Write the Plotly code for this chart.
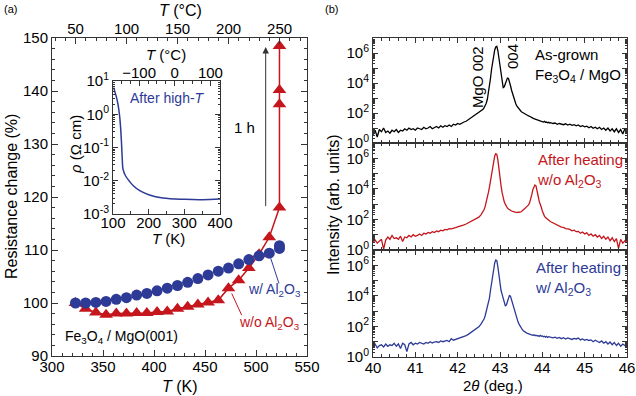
import plotly.graph_objects as go

# ── (a) resistance change vs temperature ──
temp_w = [323, 333, 343, 353, 363, 373, 383, 393, 403, 413, 423,
          433, 443, 453, 463, 473, 483, 493, 503, 513, 523, 523]
res_w = [100.0, 100.0, 100.1, 100.3, 100.7, 101.0, 101.5, 101.8, 102.3, 102.8, 103.3,
         103.9, 104.6, 105.3, 106.0, 106.6, 107.4, 108.2, 108.9, 109.4, 110.3, 110.8]

temp_wo = [323, 333, 343, 353, 363, 373, 383, 393, 403, 413, 423, 433,
           443, 453, 463, 473, 483, 493, 503, 513, 523, 523, 523, 523]
res_wo = [100.0, 98.9, 98.2, 97.8, 98.0, 98.0, 98.1, 98.1, 98.3, 98.4, 98.9, 99.3,
          99.7, 100.1, 100.5, 102.8, 104.3, 106.6, 109.2, 112.4, 118.0, 137.5, 140.2, 148.5]

# inset: resistivity after high-T (log10 of rho)
inset_T = [102, 106, 110, 114, 118, 121, 124, 126, 128, 135, 145, 157, 175, 200, 240, 300, 350, 400]
inset_log_rho = [0.80, 0.65, 0.50, 0.30, 0.00, -0.35, -0.90, -1.35, -1.65, -1.85, -2.00,
                 -2.15, -2.30, -2.42, -2.52, -2.56, -2.57, -2.55]

# ── (b) XRD scans, 2theta grid (coarse / fine around peaks / coarse) ──
scan_lo = [40.00, 40.05, 40.10, 40.15, 40.20, 40.25, 40.30, 40.35, 40.40, 40.45,
           40.50, 40.55, 40.60, 40.65, 40.70, 40.75, 40.80, 40.85, 40.90, 40.95,
           41.00, 41.05, 41.10, 41.15, 41.20, 41.25, 41.30, 41.35, 41.40, 41.45,
           41.50, 41.55, 41.60, 41.65, 41.70, 41.75, 41.80, 41.85, 41.90, 41.95,
           42.00, 42.05, 42.10, 42.15, 42.20, 42.25, 42.30, 42.35, 42.40, 42.45,
           42.50, 42.55]
scan_mid = [42.600, 42.625, 42.650, 42.675, 42.700, 42.725, 42.750, 42.775, 42.800, 42.825,
            42.850, 42.875, 42.900, 42.925, 42.950, 42.975, 43.000, 43.025, 43.050, 43.075,
            43.100, 43.125, 43.150, 43.175, 43.200, 43.225, 43.250, 43.275, 43.300, 43.325,
            43.350, 43.375, 43.400, 43.425, 43.450, 43.475, 43.500, 43.525, 43.550, 43.575,
            43.600, 43.625, 43.650, 43.675, 43.700, 43.725, 43.750, 43.775, 43.800, 43.825,
            43.850, 43.875, 43.900, 43.925, 43.950, 43.975, 44.000, 44.025, 44.050, 44.075,
            44.100, 44.125, 44.150, 44.175]
scan_hi = [44.20, 44.25, 44.30, 44.35, 44.40, 44.45, 44.50, 44.55, 44.60, 44.65,
           44.70, 44.75, 44.80, 44.85, 44.90, 44.95, 45.00, 45.05, 45.10, 45.15,
           45.20, 45.25, 45.30, 45.35, 45.40, 45.45, 45.50, 45.55, 45.60, 45.65,
           45.70, 45.75, 45.80, 45.85, 45.90, 45.95, 46.00]
two_theta = scan_lo + scan_mid + scan_hi

# log10(intensity)
asgrown_log = [
    0.55, 0.85, 0.40, 0.90, 0.75, 1.00, 0.70, 0.80, 0.65, 0.85,
    0.75, 0.90, 0.70, 0.85, 0.80, 0.95, 0.85, 1.00, 0.90, 0.95,
    0.85, 1.00, 0.95, 0.90, 1.05, 0.95, 1.00, 1.10, 0.95, 1.05,
    1.10, 1.00, 1.15, 1.05, 1.15, 1.10, 1.20, 1.10, 1.25, 1.20,
    1.30, 1.25, 1.35, 1.40, 1.45, 1.55, 1.65, 1.75, 1.85, 1.93,
    2.05, 2.15,
    2.25, 2.35, 2.47, 2.65, 2.90, 3.30, 3.75, 4.30, 4.90, 5.40,
    5.85, 6.20, 6.40, 6.45, 6.15, 5.60, 5.10, 4.50, 4.00, 3.70,
    3.75, 3.95, 4.20, 4.33, 4.30, 4.10, 3.80, 3.50, 3.25, 3.00,
    2.80, 2.60, 2.45, 2.35, 2.25, 2.15, 2.10, 2.05, 2.00, 1.95,
    1.92, 1.88, 1.85, 1.80, 1.78, 1.72, 1.70, 1.66, 1.62, 1.60,
    1.55, 1.52, 1.50, 1.48, 1.45, 1.48, 1.42, 1.40, 1.44, 1.38,
    1.40, 1.35, 1.38, 1.33,
    1.35, 1.30, 1.33, 1.25, 1.30, 1.27, 1.22, 1.28, 1.20, 1.25,
    1.18, 1.22, 1.15, 1.20, 1.10, 1.15, 1.08, 1.12, 1.02, 1.10,
    0.98, 1.05, 0.95, 1.05, 0.90, 1.00, 0.85, 1.00, 0.80, 0.95,
    0.75, 0.95, 0.70, 0.90, 0.60, 0.95, 0.70]

heated_wo_log = [
    0.50, 0.65, 0.45, 0.60, 0.70, 0.05, 0.65, 0.85, 0.70, 0.95,
    0.75, 0.80, 0.70, 0.90, 0.55, 0.85, 0.80, 0.95, 0.85, 1.00,
    0.90, 0.95, 1.05, 0.95, 1.10, 1.05, 1.15, 1.10, 1.20, 1.15,
    1.25, 1.20, 1.30, 1.25, 1.35, 1.32, 1.40, 1.38, 1.45, 1.47,
    1.52, 1.55, 1.60, 1.65, 1.70, 1.77, 1.83, 1.90, 1.98, 2.06,
    2.15, 2.30,
    2.50, 2.65, 2.85, 3.10, 3.40, 3.75, 4.10, 4.55, 5.00, 5.45,
    5.85, 6.15, 6.30, 6.25, 5.90, 5.20, 4.60, 4.20, 3.75, 3.40,
    3.15, 3.00, 2.85, 2.75, 2.68, 2.62, 2.58, 2.55, 2.52, 2.50,
    2.48, 2.47, 2.45, 2.47, 2.45, 2.48, 2.50, 2.55, 2.60, 2.68,
    2.75, 2.82, 2.88, 2.95, 3.10, 3.30, 3.60, 3.95, 4.15, 4.25,
    4.20, 3.95, 3.55, 3.20, 3.05, 2.80, 2.55, 2.35, 2.22, 2.12,
    2.05, 2.00, 1.95, 1.90,
    1.85, 1.78, 1.70, 1.62, 1.58, 1.50, 1.48, 1.40, 1.38, 1.35,
    1.25, 1.30, 1.20, 1.22, 1.10, 1.18, 1.05, 1.12, 0.95, 1.05,
    0.90, 1.00, 0.85, 0.95, 0.75, 0.90, 0.70, 0.85, 0.60, 0.80,
    0.55, 0.75, 0.10, 0.70, 0.45, 0.60, 0.50]

heated_w_log = [
    0.70, 0.85, 0.60, 0.75, 0.80, 0.65, 0.85, 0.70, 0.80, 0.75,
    0.90, 0.70, 0.85, 0.55, 0.90, 0.80, 0.35, 0.85, 0.95, 0.80,
    0.90, 0.85, 0.95, 0.90, 0.85, 0.95, 0.90, 1.00, 0.92, 0.98,
    1.00, 0.95, 1.05, 1.00, 1.02, 1.08, 1.00, 1.20, 1.10, 1.15,
    1.20, 1.22, 1.28, 1.32, 1.40, 1.48, 1.57, 1.65, 1.75, 1.85,
    1.97, 2.15,
    2.35, 2.50, 2.70, 2.95, 3.20, 3.50, 3.85, 4.35, 4.85, 5.35,
    5.80, 6.15, 6.35, 6.30, 5.90, 5.30, 4.75, 4.35, 4.10, 3.85,
    3.50, 3.35, 3.40, 3.65, 3.95, 4.05, 3.95, 3.70, 3.45, 3.20,
    3.00, 2.75, 2.50, 2.30, 2.15, 2.00, 1.90, 1.80, 1.72, 1.66,
    1.62, 1.58, 1.55, 1.52, 1.50, 1.46, 1.48, 1.42, 1.45, 1.40,
    1.42, 1.38, 1.40, 1.35, 1.42, 1.36, 1.38, 1.32, 1.36, 1.30,
    1.35, 1.28, 1.33, 1.30,
    1.32, 1.25, 1.30, 1.22, 1.28, 1.20, 1.26, 1.18, 1.25, 1.20,
    1.15, 1.22, 1.18, 1.24, 1.12, 1.18, 1.10, 1.15, 1.08, 1.12,
    1.00, 1.10, 1.02, 0.95, 1.05, 0.90, 1.00, 0.85, 0.98, 0.80,
    0.95, 0.75, 0.90, 0.70, 0.85, 0.75, 0.80]

W, H = 636, 396
RED = '#c4161c'
BLUE = '#2d3a96'
AX = '#333333'
FONT = 'Liberation Sans, Arial, sans-serif'
KELVIN = 273.15


def fx(p):
    return p / W


def fy(p):
    return 1 - p / H


def sup(n):
    return f"10<sup>{n}</sup>"


def frame(**kw):
    base = dict(showline=True, linecolor=AX, linewidth=1, showgrid=False, zeroline=False,
                automargin=False, ticks='inside', ticklen=5, tickcolor=AX,
                tickfont=dict(size=15, color='black'))
    base.update(kw)
    return base


fig = go.Figure()

# (a) main
fig.add_trace(go.Scatter(x=temp_wo, y=res_wo, mode='lines+markers',
                         line=dict(color=RED, width=1.5),
                         marker=dict(symbol='triangle-up', size=12, color=RED),
                         xaxis='x', yaxis='y', showlegend=False))
fig.add_trace(go.Scatter(x=temp_w, y=res_w, mode='markers',
                         marker=dict(symbol='circle', size=11, color=BLUE),
                         xaxis='x', yaxis='y', showlegend=False))
# same points on the °C scale (invisible) so the top axis is drawn
fig.add_trace(go.Scatter(x=[t - KELVIN for t in temp_w], y=res_w, mode='markers',
                         marker=dict(size=1, opacity=0), hoverinfo='skip',
                         xaxis='x2', yaxis='y', showlegend=False))

# (a) inset
rho = [10 ** v for v in inset_log_rho]
fig.add_trace(go.Scatter(x=inset_T, y=rho, mode='lines',
                         line=dict(color=BLUE, width=1.5), line_shape='spline',
                         xaxis='x3', yaxis='y3', showlegend=False))
fig.add_trace(go.Scatter(x=[t - KELVIN for t in inset_T], y=rho, mode='markers',
                         marker=dict(size=1, opacity=0), hoverinfo='skip',
                         xaxis='x4', yaxis='y3', showlegend=False))

# (b) XRD
for log_vals, color, xa, ya in [(asgrown_log, 'black', 'x5', 'y5'),
                                (heated_wo_log, RED, 'x6', 'y6'),
                                (heated_w_log, BLUE, 'x7', 'y7')]:
    fig.add_trace(go.Scatter(x=two_theta, y=[10 ** v for v in log_vals], mode='lines',
                             line=dict(color=color, width=1.3),
                             xaxis=xa, yaxis=ya, showlegend=False))

xrd_vals = [10 ** k for k in range(8)]
xrd_text = [sup(k) if k % 2 == 0 else '' for k in range(8)]
inset_vals = [10 ** k for k in range(-3, 2)]
inset_text = [sup(k) for k in range(-3, 2)]

fig.update_layout(
    width=W, height=H,
    margin=dict(l=0, r=0, t=0, b=0),
    paper_bgcolor='white', plot_bgcolor='white',
    font=dict(family=FONT, size=15, color='black'),
    xaxis=frame(domain=[fx(52), fx(307)], range=[300, 550], anchor='y',
                tick0=300, dtick=50, ticklen=6, ticklabelstandoff=-3,
                minor=dict(ticks='inside', dtick=10, ticklen=3, tickcolor=AX)),
    yaxis=frame(domain=[fy(356), fy(38)], range=[90, 150], anchor='x',
                tick0=90, dtick=10, ticklen=6, mirror='ticks',
                minor=dict(ticks='inside', dtick=2, ticklen=3, tickcolor=AX)),
    xaxis2=frame(overlaying='x', side='top', anchor='y',
                 range=[300 - KELVIN, 550 - KELVIN], tick0=0, dtick=50, ticklen=6,
                 ticklabelstandoff=-3,
                 minor=dict(ticks='inside', dtick=10, ticklen=3, tickcolor=AX)),
    xaxis3=frame(domain=[fx(113), fx(220)], range=[100, 400], anchor='y3',
                 tick0=100, dtick=100, ticklen=5, ticklabelstandoff=-5,
                 minor=dict(ticks='inside', dtick=50, ticklen=3, tickcolor=AX)),
    yaxis3=frame(domain=[fy(214), fy(81)], type='log', range=[-3, 1], anchor='x3',
                 tickmode='array', tickvals=inset_vals, ticktext=inset_text,
                 mirror='ticks', ticklen=5,
                 minor=dict(ticks='inside', dtick='D1', ticklen=2, tickcolor=AX)),
    xaxis4=frame(overlaying='x3', side='top', anchor='y3',
                 range=[100 - KELVIN, 400 - KELVIN], tick0=0, dtick=100, ticklen=5,
                 ticklabelstandoff=-4,
                 minor=dict(ticks='inside', dtick=25, ticklen=3, tickcolor=AX)),
)

xrd_rows = [(5, 38, 143, False), (6, 143, 250, False), (7, 250, 357, True)]
for n, top, bot, labels in xrd_rows:
    fig.update_layout({
        f'xaxis{n}': frame(domain=[fx(373), fx(627)], range=[40, 46], anchor=f'y{n}',
                           tick0=40, dtick=1, ticklen=5, mirror='allticks',
                           showticklabels=labels, ticklabelstandoff=-3,
                           minor=dict(ticks='inside', dtick=0.2, ticklen=3, tickcolor=AX)),
        f'yaxis{n}': frame(domain=[fy(bot), fy(top)], type='log', range=[0, 7],
                           anchor=f'x{n}', tickmode='array', tickvals=xrd_vals,
                           ticktext=xrd_text, ticklen=5, mirror='allticks',
                           minor=dict(ticks='inside', dtick='D1', ticklen=2, tickcolor=AX)),
    })


def note(text, x, y, size=15, color='black', xanchor='center', angle=0, align='center'):
    fig.add_annotation(text=text, x=fx(x), y=fy(y), xref='paper', yref='paper',
                       showarrow=False, xanchor=xanchor, yanchor='middle', textangle=angle,
                       align=align, font=dict(size=size, color=color))


# titles and labels, panel (a)
note('(a)', 2, 9, size=11, xanchor='left')
note('<i>T</i> (°C)', 180, 10, size=16)
note('<i>T</i> (K)', 180, 386, size=16)
note('Resistance change (%)', 12, 197, size=16, angle=-90)
note('<i>T</i> (°C)', 166, 55, size=15)
note('<i>T</i> (K)', 168, 238, size=15)
note('<i>ρ</i> (Ω cm)', 75, 145, size=15, angle=-90)
note('After high-<i>T</i>', 128, 98, size=14, color=BLUE, xanchor='left')

fig.add_annotation(text='Fe<sub>3</sub>O<sub>4</sub> / MgO(001)', x=310.5, y=93.6,
                   xref='x', yref='y', showarrow=False, xanchor='left',
                   font=dict(size=14))
fig.add_annotation(text='w/ Al<sub>2</sub>O<sub>3</sub>', x=518.6, y=102.5,
                   xref='x', yref='y', showarrow=False, font=dict(size=14, color=BLUE))
fig.add_annotation(text='w/o Al<sub>2</sub>O<sub>3</sub>', x=513.7, y=96.2,
                   xref='x', yref='y', showarrow=False, font=dict(size=14, color=RED))
fig.add_annotation(text='1 h', x=489, y=133.2, xref='x', yref='y', showarrow=False,
                   font=dict(size=15))
fig.add_annotation(x=509.5, y=148.3, ax=509.5, ay=118, xref='x', yref='y',
                   axref='x', ayref='y', showarrow=True, arrowhead=2, arrowsize=1.3,
                   arrowwidth=1, arrowcolor='#333333', text='')
fig.add_shape(type='line', x0=514.5, y0=108.4, x1=522.5, y1=103.7, xref='x', yref='y',
              line=dict(color=BLUE, width=1))
fig.add_shape(type='line', x0=476.2, y0=101.8, x1=486.0, y1=97.7, xref='x', yref='y',
              line=dict(color=RED, width=1))

# titles and labels, panel (b)
note('(b)', 323, 9, size=11, xanchor='left')
note('Intensity (arb. units)', 334, 205, size=16, angle=-90)
note('2<i>θ</i> (deg.)', 493, 385, size=15)
note('MgO 002', 478, 77, size=15, angle=-90)
note('004', 513, 57, size=15, angle=-90)
note('As-grown<br>Fe<sub>3</sub>O<sub>4</sub> / MgO', 533, 65, xanchor='left', align='left')
note('After heating<br>w/o Al<sub>2</sub>O<sub>3</sub>', 535, 170, color=RED,
     xanchor='left', align='left')
note('After heating<br>w/ Al<sub>2</sub>O<sub>3</sub>', 533, 278, color=BLUE,
     xanchor='left', align='left')

# the page body has a default 8px margin; drop it so the figure fills the window
fig.write_html("out.html", config={'displayModeBar': False},
               post_script="document.body.style.margin = '0';")
